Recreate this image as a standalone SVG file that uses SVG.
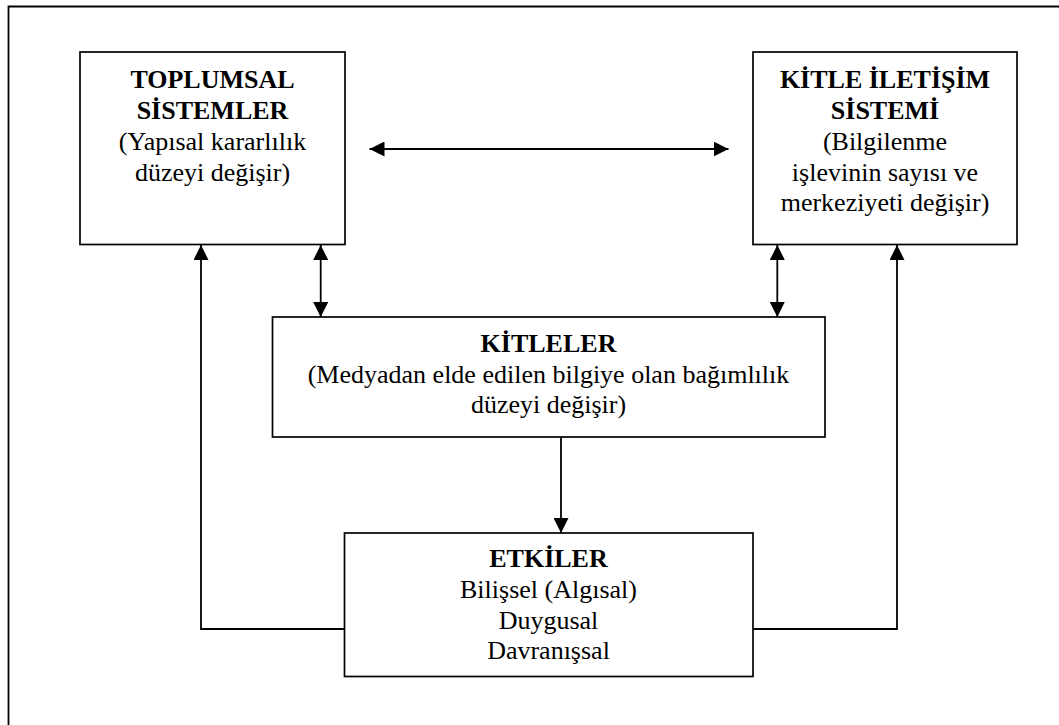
<svg xmlns="http://www.w3.org/2000/svg" width="1059" height="725" viewBox="0 0 1059 725">
<defs>
<style>
.box{fill:#fff;stroke:#000;stroke-width:1.7}
.ln{fill:none;stroke:#000;stroke-width:1.8}
.t{font-family:'Liberation Serif','Times New Roman',serif;font-size:26px;fill:#000;text-anchor:middle}
.b{font-weight:bold}
</style>
<marker id="ah" viewBox="0 0 15 15" refX="15" refY="7.5" markerWidth="15" markerHeight="15" markerUnits="userSpaceOnUse" orient="auto-start-reverse">
<path d="M0,0 L15,7.5 L0,15 Z" fill="#000"/>
</marker>
</defs>
<rect width="1059" height="725" fill="#fff"/>
<path d="M8.5,725 L8.5,6.5 L1059,6.5" fill="none" stroke="#000" stroke-width="1.8"/>
<g id="connectors">
<line class="ln" x1="369.5" y1="149" x2="728.5" y2="149" marker-start="url(#ah)" marker-end="url(#ah)"/>
<line class="ln" x1="320.7" y1="245" x2="320.7" y2="317" marker-start="url(#ah)" marker-end="url(#ah)"/>
<line class="ln" x1="777.3" y1="245" x2="777.3" y2="317" marker-start="url(#ah)" marker-end="url(#ah)"/>
<line class="ln" x1="561" y1="437" x2="561" y2="533" marker-end="url(#ah)"/>
<polyline class="ln" points="344,629 201,629 201,245" marker-end="url(#ah)"/>
<polyline class="ln" points="753,629 897,629 897,245" marker-end="url(#ah)"/>
</g>
<g id="toplumsal" class="t">
<rect class="box" x="80" y="52" width="265" height="192.5"/>
<text class="b" x="212.5" y="88">TOPLUMSAL</text>
<text class="b" x="212.5" y="119">SİSTEMLER</text>
<text x="212.5" y="150">(Yapısal kararlılık</text>
<text x="212.5" y="181">düzeyi değişir)</text>
</g>
<g id="kitle-iletisim" class="t">
<rect class="box" x="753" y="52" width="264" height="192.5"/>
<text class="b" x="885" y="88">KİTLE İLETİŞİM</text>
<text class="b" x="885" y="119">SİSTEMİ</text>
<text x="885" y="150">(Bilgilenme</text>
<text x="885" y="181">işlevinin sayısı ve</text>
<text x="885" y="211">merkeziyeti değişir)</text>
</g>
<g id="kitleler" class="t">
<rect class="box" x="272.5" y="317" width="552.5" height="120"/>
<text class="b" x="548.5" y="352">KİTLELER</text>
<text x="548.5" y="383">(Medyadan elde edilen bilgiye olan bağımlılık</text>
<text x="548.5" y="413">düzeyi değişir)</text>
</g>
<g id="etkiler" class="t">
<rect class="box" x="344.5" y="533" width="408.5" height="143.5"/>
<text class="b" x="548.5" y="567">ETKİLER</text>
<text x="548.5" y="598">Bilişsel (Algısal)</text>
<text x="548.5" y="629">Duygusal</text>
<text x="548.5" y="659">Davranışsal</text>
</g>
</svg>
